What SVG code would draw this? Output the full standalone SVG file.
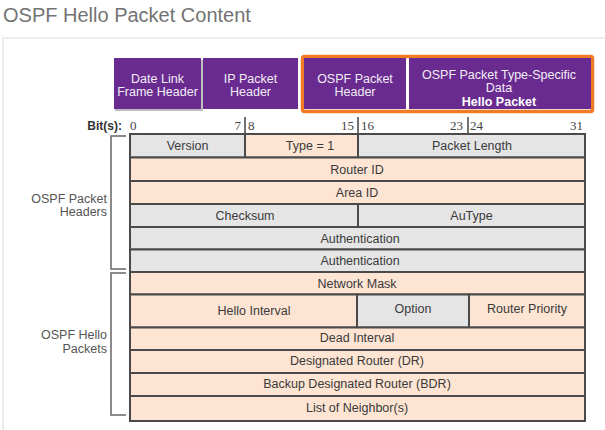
<svg xmlns="http://www.w3.org/2000/svg" width="605" height="430" viewBox="0 0 605 430">
<style>
.t{font-family:"Liberation Sans",Arial,sans-serif;font-size:12.5px;fill:#3a3a3a;text-anchor:middle}
.h{font-family:"Liberation Sans",Arial,sans-serif;font-size:12.5px;fill:#f2eef6;text-anchor:middle}
.n{font-family:"Liberation Serif","Times New Roman",serif;font-size:13px;fill:#444}
.lab{font-family:"Liberation Sans",Arial,sans-serif;font-size:12.5px;fill:#555;text-anchor:end}
.p{fill:#fde4d3;stroke:#4a4a4a;stroke-width:2}
.g{fill:#e5e5e6;stroke:#4a4a4a;stroke-width:2}
.pu{fill:#6a2b90}
.br{fill:none;stroke:#666;stroke-width:1.5}
</style>
<rect width="605" height="430" fill="#fff"/>
<text x="3" y="22" font-family="'Liberation Sans',Arial,sans-serif" font-size="20" fill="#737373">OSPF Hello Packet Content</text>
<path d="M3,430 V38 H605" fill="none" stroke="#ececec" stroke-width="2"/>

<g id="header-boxes">
  <rect x="115" y="60" width="88" height="51" fill="#444" opacity="0.35"/>
  <rect x="114" y="58" width="87" height="51" class="pu"/>
  <text class="h" x="157.5" y="83">Date Link</text>
  <text class="h" x="157.5" y="96">Frame Header</text>
  <rect x="203" y="58" width="95" height="51" class="pu"/>
  <text class="h" x="250.5" y="83">IP Packet</text>
  <text class="h" x="250.5" y="96">Header</text>
  <rect x="302.5" y="56.5" width="290" height="55" fill="none" stroke="#f07a26" stroke-width="3.5" rx="2"/>
  <rect x="304" y="58" width="102" height="51" class="pu"/>
  <text class="h" x="355" y="83">OSPF Packet</text>
  <text class="h" x="355" y="96">Header</text>
  <rect x="409" y="58" width="182" height="51" class="pu"/>
  <text class="h" x="499" y="78.5">OSPF Packet Type-Specific</text>
  <text class="h" x="499" y="92">Data</text>
  <text class="h" x="499" y="105.5" font-weight="bold" style="fill:#fff">Hello Packet</text>
</g>

<g id="bits">
  <text x="122" y="130" font-family="'Liberation Sans',Arial,sans-serif" font-size="12" font-weight="bold" fill="#333" text-anchor="end">Bit(s):</text>
  <text class="n" x="130" y="130">0</text>
  <text class="n" x="241" y="130" text-anchor="end">7</text>
  <text class="n" x="248" y="130">8</text>
  <text class="n" x="354" y="130" text-anchor="end">15</text>
  <text class="n" x="361" y="130">16</text>
  <text class="n" x="463" y="130" text-anchor="end">23</text>
  <text class="n" x="470" y="130">24</text>
  <text class="n" x="583" y="130" text-anchor="end">31</text>
  <path d="M245,117 V134 M358,117 V134 M468,117 V134" stroke="#444" stroke-width="1.5"/>
</g>

<g id="table">
  <rect x="130" y="134" width="115" height="23.5" class="g"/>
  <text class="t" x="187.5" y="150">Version</text>
  <rect x="245" y="134" width="113" height="23.5" class="p"/>
  <text class="t" x="310" y="150">Type = 1</text>
  <rect x="358" y="134" width="227" height="23.5" class="g"/>
  <text class="t" x="472" y="150">Packet Length</text>

  <rect x="130" y="157.5" width="455" height="23.5" class="p"/>
  <text class="t" x="357" y="173.5">Router ID</text>
  <rect x="130" y="181" width="455" height="23" class="p"/>
  <text class="t" x="357" y="197">Area ID</text>

  <rect x="130" y="204" width="228" height="23" class="g"/>
  <text class="t" x="245" y="220">Checksum</text>
  <rect x="358" y="204" width="227" height="23" class="g"/>
  <text class="t" x="471.5" y="220">AuType</text>

  <rect x="130" y="227" width="455" height="22.5" class="g"/>
  <text class="t" x="360" y="242.5">Authentication</text>
  <rect x="130" y="249.5" width="455" height="22.5" class="g"/>
  <text class="t" x="360" y="265">Authentication</text>

  <rect x="130" y="272" width="455" height="22.5" class="p"/>
  <text class="t" x="357" y="288">Network Mask</text>

  <rect x="130" y="294.5" width="227" height="33" class="p"/>
  <text class="t" x="254" y="315">Hello Interval</text>
  <rect x="357" y="294.5" width="112" height="33" class="g"/>
  <text class="t" x="413" y="313">Option</text>
  <rect x="469" y="294.5" width="116" height="33" class="p"/>
  <text class="t" x="527" y="313">Router Priority</text>

  <rect x="130" y="327.5" width="455" height="22.5" class="p"/>
  <text class="t" x="357" y="342">Dead Interval</text>
  <rect x="130" y="350" width="455" height="23" class="p"/>
  <text class="t" x="357" y="365">Designated Router (DR)</text>
  <rect x="130" y="373" width="455" height="23" class="p"/>
  <text class="t" x="357" y="388">Backup Designated Router (BDR)</text>
  <rect x="130" y="396" width="455" height="25" class="p"/>
  <text class="t" x="357" y="411.5">List of Neighbor(s)</text>
</g>

<g id="brackets">
  <path class="br" d="M126,136 H111 V269 H126"/>
  <path class="br" d="M126,273 H111 V415 H126"/>
  <text class="lab" x="107" y="203">OSPF Packet</text>
  <text class="lab" x="107" y="216">Headers</text>
  <text class="lab" x="107" y="339">OSPF Hello</text>
  <text class="lab" x="107" y="352.5">Packets</text>
</g>
</svg>
